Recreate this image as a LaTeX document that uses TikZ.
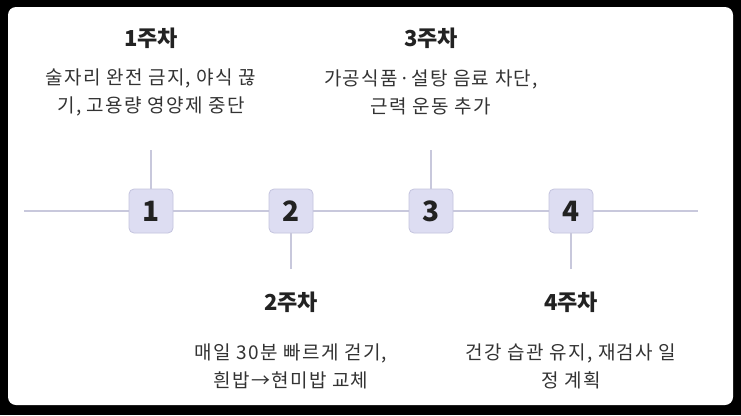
\documentclass[tikz,border=0pt]{standalone}
\usepackage{fontspec}
\setmainfont{Noto Sans CJK KR}
\newfontfamily\descfont[LetterSpace=7]{Noto Sans CJK KR}
\begin{document}
\begin{tikzpicture}[x=1pt,y=-1pt,
  linec/.style={draw=lineC, line width=1.6pt},
  numbox/.style={draw=boxD, fill=boxF, rounded corners=5pt, minimum width=44pt, minimum height=44pt, line width=0.8pt, font=\fontsize{28}{28}\selectfont\bfseries, text=txtT, inner sep=0pt},
  ttl/.style={font=\fontsize{22}{24}\selectfont\bfseries, text=txtT, inner sep=0pt},
  desc/.style={font=\descfont\fontsize{19}{28}\selectfont, text=txtB, align=center, inner sep=0pt}
]
\definecolor{lineC}{RGB}{200,200,220}
\definecolor{boxF}{RGB}{221,221,242}
\definecolor{boxD}{RGB}{196,196,222}
\definecolor{txtT}{RGB}{34,34,34}
\definecolor{txtB}{RGB}{51,51,51}
\useasboundingbox (0,0) rectangle (741,415);
\fill[black] (0,0) rectangle (741,415);
\fill[white, rounded corners=8pt] (8,7) rectangle (733,405);
\coordinate (L) at (24,211);
\coordinate (R) at (698,211);
\draw[linec] (L) -- (R);
\node[numbox] (b1) at (151,211) {1};
\node[numbox] (b2) at (291,211) {2};
\node[numbox] (b3) at (431,211) {3};
\node[numbox] (b4) at (571,211) {4};
\coordinate (t1) at (151,150);
\coordinate (t2) at (291,269);
\coordinate (t3) at (431,150);
\coordinate (t4) at (571,269);
\draw[linec] (b1.north) -- (t1);
\draw[linec] (b2.south) -- (t2);
\draw[linec] (b3.north) -- (t3);
\draw[linec] (b4.south) -- (t4);
\node[ttl] (h1) at (151,38) {1주차};
\node[ttl] (h2) at (291,302) {2주차};
\node[ttl] (h3) at (431,38) {3주차};
\node[ttl] (h4) at (571,302) {4주차};
\node[desc] (d1) at (151,92) {술자리 완전 금지, 야식 끊\\기, 고용량 영양제 중단};
\node[desc] (d2) at (291,366) {매일 30분 빠르게 걷기,\\흰밥→현미밥 교체};
\node[desc] (d3) at (431,92) {가공식품·설탕 음료 차단,\\근력 운동 추가};
\node[desc] (d4) at (571,366) {건강 습관 유지, 재검사 일\\정 계획};
\end{tikzpicture}
\end{document}
